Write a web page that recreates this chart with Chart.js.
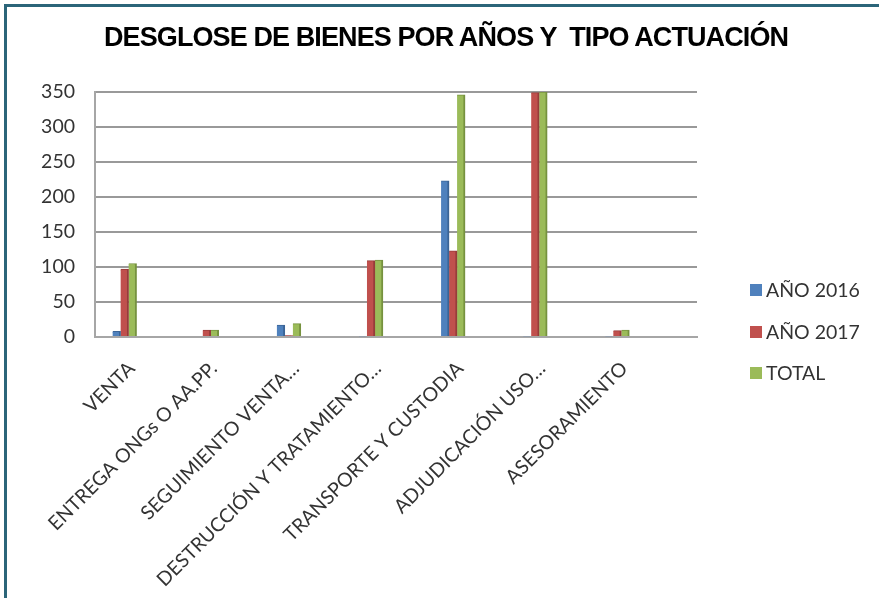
<!DOCTYPE html>
<html lang="es">
<head>
  <meta charset="UTF-8" />
  <title>Desglose de bienes</title>
  <script src="https://cdn.jsdelivr.net/npm/chart.js"></script>
  <style>
    html, body { margin: 0; padding: 0; background: #fff; }
    #wrap { position: relative; width: 879px; height: 598px; overflow: hidden; }
    #frame {
      position: absolute; left: 4px; top: 4px; right: -10px; bottom: -10px;
      border-top: 3px solid #2b6579; border-left: 3px solid #2b6579;
    }
    #title {
      position: absolute; left: 104px; top: 24px; white-space: pre;
      font: bold 27px "Liberation Sans", Arial, sans-serif; line-height: 27px;
      letter-spacing: -0.9px; color: #000;
    }
    #legend { position: absolute; left: 750px; top: 279px; font: 19.5px Lato, sans-serif; color: #333; }
    .item { position: relative; height: 41.5px; white-space: nowrap; }
    .box { position: absolute; left: 0; top: 5px; width: 12px; height: 12px; }
    .lab { position: absolute; left: 16px; top: -1px; line-height: 24px; }
    canvas { position: absolute; left: 0; top: 0; }
  </style>
</head>
<body>
  <div id="wrap">
    <div id="frame"></div>
    <canvas id="chart" width="879" height="598"></canvas>
    <div id="title">DESGLOSE DE BIENES POR AÑOS Y  TIPO ACTUACIÓN</div>
    <div id="legend"></div>
  </div>

  <script>
    const CATEGORIES = [
      "VENTA",
      "ENTREGA ONGs O AA.PP.",
      "SEGUIMIENTO VENTA…",
      "DESTRUCCIÓN Y TRATAMIENTO…",
      "TRANSPORTE Y CUSTODIA",
      "ADJUDICACIÓN USO…",
      "ASESORAMIENTO"
    ];
    const SERIES_NAMES = ["AÑO 2016", "AÑO 2017", "TOTAL"];
    const ANO_2016 = [8, 0, 17, 1, 223, 1, 1];
    const ANO_2017 = [97, 10, 2, 109, 123, 349, 9];
    const TOTAL    = [105, 10, 19, 110, 346, 350, 10];
    const Y_TICKS  = [0, 50, 100, 150, 200, 250, 300, 350];

    const COLORS = ["#4f81bd", "#c0504d", "#9bbb59"];
    const EDGES  = ["#3a6496", "#963c3a", "#76923f"];

    const series = [ANO_2016, ANO_2017, TOTAL];

    // legend on the right, html
    const legend = document.getElementById("legend");
    SERIES_NAMES.forEach((name, i) => {
      const d = document.createElement("div");
      d.className = "item";
      d.innerHTML = `<span class="box" style="background:${COLORS[i]}"></span><span class="lab">${name}</span>`;
      legend.appendChild(d);
    });

    new Chart(document.getElementById("chart"), {
      type: "bar",
      data: {
        datasets: series.map((vals, i) => ({
          label: SERIES_NAMES[i],
          data: vals.map((v, k) => ({ x: k, y: v })),
          backgroundColor: COLORS[i],
          borderColor: EDGES[i],
          borderWidth: { right: 2, top: 1, left: 0, bottom: 0 },
          borderSkipped: "bottom",
          barThickness: 8
        }))
      },
      options: {
        responsive: false,
        animation: false,
        layout: { padding: { left: 25, top: 92, right: 182, bottom: 0 } },
        plugins: {
          legend: { display: false },
          title: { display: false },
          tooltip: { enabled: false }
        },
        scales: {
          x: {
            type: "linear",
            offset: false,
            min: -0.36,
            max: 6.97,
            afterBuildTicks: s => { s.ticks = CATEGORIES.map((_, k) => ({ value: k })); },
            afterFit: s => { s.height = 261; },
            grid: { display: false, drawTicks: false },
            border: { display: true, color: "#a6a6a6", width: 2 },
            ticks: {
              autoSkip: false,
              minRotation: 45,
              maxRotation: 45,
              padding: 20,
              labelOffset: 7,
              color: "#333",
              font: { family: "Lato", size: 19.5 },
              callback: v => CATEGORIES[v] ?? ""
            }
          },
          y: {
            min: Y_TICKS[0],
            max: Y_TICKS[Y_TICKS.length - 1],
            afterBuildTicks: s => { s.ticks = Y_TICKS.map(v => ({ value: v })); },
            afterFit: s => { s.width = 70; },
            grid: { color: "#999", lineWidth: 2, drawTicks: false },
            border: { display: true, color: "#a6a6a6", width: 2 },
            ticks: {
              padding: 20,
              color: "#333",
              font: { family: "Lato", size: 19.5 }
            }
          }
        }
      }
    });
  </script>
</body>
</html>
